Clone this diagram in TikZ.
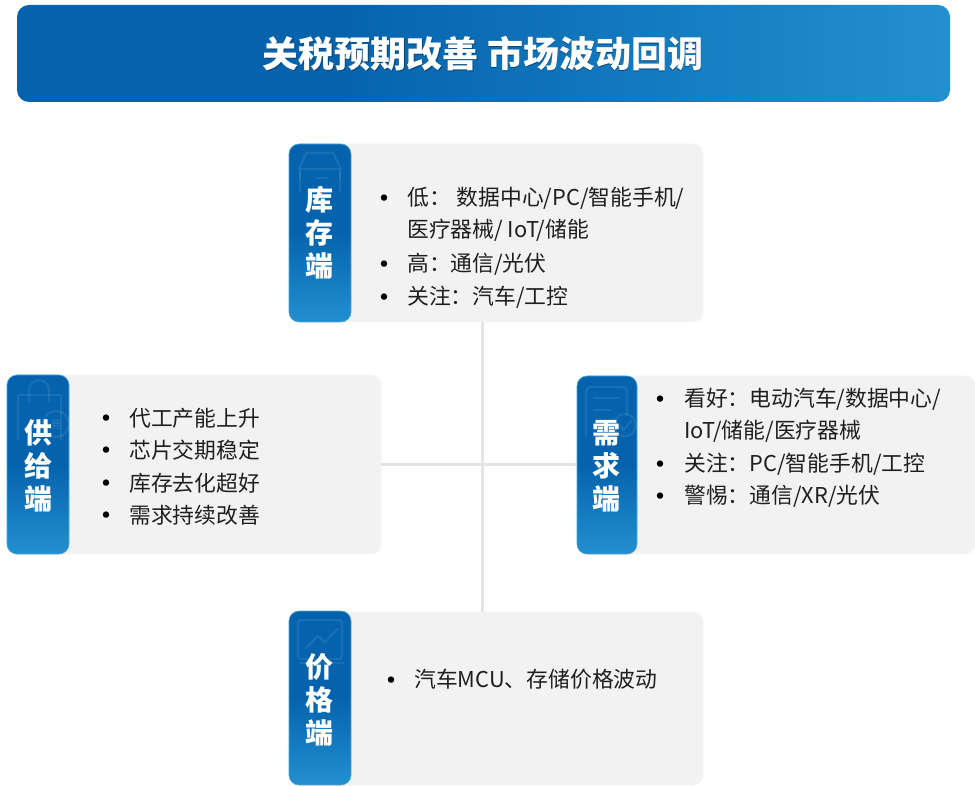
\documentclass[tikz,border=0pt]{standalone}
\usepackage{fontspec}
\setmainfont{Noto Sans CJK SC}
\usetikzlibrary{calc}
\definecolor{dk}{HTML}{0563AD}
\definecolor{lt}{HTML}{2290D0}
\definecolor{pn}{HTML}{F2F2F2}
\definecolor{ln}{HTML}{E4E4E4}
\pgfdeclareverticalshading{tabgrad}{100bp}{color(0bp)=(lt);color(25bp)=(lt);color(50bp)=(dk);color(75bp)=(dk);color(100bp)=(dk)}
\pgfdeclarehorizontalshading{titlegrad}{100bp}{color(0bp)=(dk);color(25bp)=(dk);color(42bp)=(dk);color(75bp)=(lt);color(100bp)=(lt)}
\tikzset{
  panel/.style={draw=white!96!black,line width=.8pt,fill=pn,rounded corners=10pt,inner sep=0pt},
  tabbox/.style={rounded corners=10pt,shading=tabgrad,draw=lt!80!white,line width=.6pt,inner sep=0pt,minimum height=#1},
  tabchar/.style={text=white,font=\fontsize{28}{28}\selectfont\bfseries,inner sep=0pt},
  txt/.style={anchor=west,inner sep=0pt,text=black!88,font=\fontsize{21.8}{22}\selectfont,text height=18pt,text depth=4pt},
  bul/.style={inner sep=0pt,text=black,yshift=-5pt,font=\fontsize{30}{30}\selectfont},
  link/.style={draw=ln,line width=3pt},
  ghost/.style={draw=white,opacity=.08,line width=2.2pt,line join=round,line cap=round,fill=none},
}
\begin{document}
\begin{tikzpicture}[x=1pt,y=-1pt]
\useasboundingbox (0,0) rectangle (975,786);
\fill[white] (0,0) rectangle (975,786);
% title
\node[rounded corners=12pt,shading=titlegrad,inner sep=0pt,minimum width=933pt,minimum height=97pt] (title) at (483.5,53.5) {};
\node[text=dk!70!black,font=\fontsize{36}{36}\selectfont\bfseries,inner sep=0pt] (titleshadow) at (483.7,55.2) {关税预期改善 市场波动回调};
\node[text=white,font=\fontsize{36}{36}\selectfont\bfseries,inner sep=0pt] (titletext) at (483,54) {关税预期改善 市场波动回调};
% panels
\node[panel,minimum width=414pt,minimum height=178pt] (ptop) at (496,233) {};
\node[panel,minimum width=374pt,minimum height=179pt] (pleft) at (194,464.5) {};
\node[panel,minimum width=398pt,minimum height=178pt] (pright) at (776,465) {};
\node[panel,minimum width=414pt,minimum height=173pt] (pbot) at (496,698.5) {};
% connectors
\coordinate (cross) at (482,464);
\draw[link] (ptop.south -| cross) -- (pbot.north -| cross);
\draw[link] (pleft.east |- cross) -- (pright.west |- cross);
% tabs
\node[tabbox=178pt,minimum width=62pt] (ttop) at (320,233) {};
\node[tabbox=179pt,minimum width=62pt] (tleft) at (38,464.5) {};
\node[tabbox=178pt,minimum width=60pt] (tright) at (607,465) {};
\node[tabbox=174pt,minimum width=62pt] (tbot) at (320,698) {};
% ghost icons
\draw[ghost] (300,179) -- (300,169) -- (340,169) -- (340,179);
\draw[ghost] (299,169) -- (306,153) -- (333,153) -- (341,169);
\draw[ghost] (300,172) -- (300,192) (340,172) -- (340,192) (316,178) -- (328,178);
\draw[ghost] (18,395) -- (61,395) -- (61,440) (18,395) -- (18,440);
\draw[ghost] (29,402) -- (29,390) arc[start angle=180,end angle=0,radius=10pt] -- (49,402);
\draw[ghost] (56,424) circle[radius=13pt];
\node[text=white,opacity=.16,font=\fontsize{11}{11}\selectfont,inner sep=0pt] (gchar) at (56,424) {竞};
\draw[ghost,rounded corners=5pt] (586,436) -- (586,387) -- (627,387) -- (627,415);
\draw[ghost] (594,398) -- (619,398) (594,410) -- (610,410);
\draw[ghost] (625,425) circle[radius=11pt];
\draw[ghost] (620,426) -- (624,430) -- (631,421);
\draw[ghost,rounded corners=3pt] (298,620) rectangle (342,659);
\draw[ghost] (306,648) -- (318,636) -- (325,642) -- (337,629);
\draw[ghost] (300,663) -- (343,663);
% tab labels
\foreach \nm/\x/\a/\b/\c/\ya/\yb/\yc in {A/319/库/存/端/200/233/266, B/38/供/给/端/433/466/499, C/606/需/求/端/433/466/499, D/319/价/格/端/667/700/733}{
  \node[tabchar] (l\nm1) at (\x,\ya) {\a};
  \node[tabchar] (l\nm2) at (\x,\yb) {\b};
  \node[tabchar] (l\nm3) at (\x,\yc) {\c};
}
% top panel
\node[bul] (b1) at (384,197) {•};
\node[txt] (t1) at (407,199) {低：\hspace{6pt}数据中心/PC/智能手机/};
\node[txt] (t2) at (407,231) {医疗器械/ IoT/储能};
\node[bul] (b3) at (384,263) {•};
\node[txt] (t3) at (407,265) {高：通信/光伏};
\node[bul] (b4) at (384,296) {•};
\node[txt] (t4) at (407,298) {关注：汽车/工控};
% left panel
\node[bul] (b5) at (106,417) {•};
\node[txt] (t5) at (129,419) {代工产能上升};
\node[bul] (b6) at (106,449) {•};
\node[txt] (t6) at (129,451) {芯片交期稳定};
\node[bul] (b7) at (106,482) {•};
\node[txt] (t7) at (129,484) {库存去化超好};
\node[bul] (b8) at (106,514) {•};
\node[txt] (t8) at (129,516) {需求持续改善};
% right panel
\node[bul] (b9) at (660,398) {•};
\node[txt] (t9) at (684,399.5) {看好：电动汽车/数据中心/};
\node[txt] (t10) at (684,431.5) {IoT/储能/医疗器械};
\node[bul] (b11) at (660,463) {•};
\node[txt] (t11) at (684,464.5) {关注：PC/智能手机/工控};
\node[bul] (b12) at (660,495) {•};
\node[txt] (t12) at (684,496.5) {警惕：通信/XR/光伏};
% bottom panel
\node[bul] (b13) at (391,679) {•};
\node[txt] (t13) at (414,680) {汽车MCU、存储价格波动};
\end{tikzpicture}
\end{document}
